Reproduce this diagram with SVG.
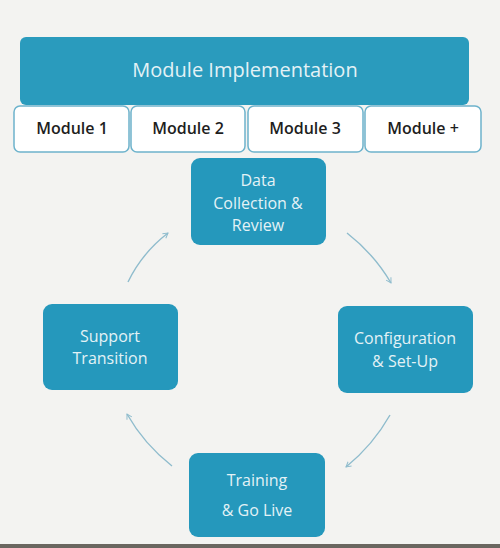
<svg xmlns="http://www.w3.org/2000/svg" width="500" height="548" viewBox="0 0 500 548">
<defs>
<marker id="ah" viewBox="0 0 10 10" refX="8" refY="5" markerWidth="7" markerHeight="7" orient="auto-start-reverse" markerUnits="userSpaceOnUse">
<path d="M1,1 L8,5 L1,9" fill="none" stroke="#8fbccd" stroke-width="1.4"/>
</marker>
<style>
.bar{fill:#2a9bbd}
.box{fill:#2598bc}
.mod{fill:#ffffff;stroke:#6db3cc;stroke-width:1.5}
.wt{font-family:"Open Sans","Noto Sans","Liberation Sans",sans-serif;fill:#e3f2f6;text-anchor:middle;font-weight:500}
.mt{font-family:"Open Sans","Noto Sans","Liberation Sans",sans-serif;fill:#1e1e1e;font-weight:600;font-size:16px;text-anchor:middle}
.arr{fill:none;stroke:#8fbccd;stroke-width:1.4;marker-end:url(#ah)}
</style>
</defs>
<rect x="0" y="0" width="500" height="548" fill="#f3f3f1"/>
<rect x="0" y="544" width="500" height="4" fill="#6a6660"/>
<g id="header">
<rect class="bar" x="20" y="37" width="449" height="68" rx="6"/>
<text class="wt" x="245" y="77" font-size="20">Module Implementation</text>
</g>
<g id="module1"><rect class="mod" x="14" y="106" width="115" height="46" rx="6"/><text class="mt" x="72" y="134">Module 1</text></g>
<g id="module2"><rect class="mod" x="131" y="106" width="114" height="46" rx="6"/><text class="mt" x="188" y="134">Module 2</text></g>
<g id="module3"><rect class="mod" x="248" y="106" width="115" height="46" rx="6"/><text class="mt" x="305" y="134">Module 3</text></g>
<g id="moduleplus"><rect class="mod" x="365" y="106" width="116" height="46" rx="6"/><text class="mt" x="423" y="134">Module +</text></g>
<g id="data">
<rect class="box" x="191" y="158" width="135" height="87" rx="9"/>
<text class="wt" font-size="16" x="258" y="186">Data</text>
<text class="wt" font-size="16" x="258" y="209">Collection &amp;</text>
<text class="wt" font-size="16" x="258" y="231">Review</text>
</g>
<g id="config">
<rect class="box" x="338" y="306" width="135" height="87" rx="9"/>
<text class="wt" font-size="16" x="405" y="344">Configuration</text>
<text class="wt" font-size="16" x="405" y="367">&amp; Set-Up</text>
</g>
<g id="training">
<rect class="box" x="189" y="453" width="136" height="84" rx="9"/>
<text class="wt" font-size="16" x="257" y="486">Training</text>
<text class="wt" font-size="16" x="257" y="516">&amp; Go Live</text>
</g>
<g id="support">
<rect class="box" x="43" y="304" width="135" height="86" rx="9"/>
<text class="wt" font-size="16" x="110" y="342">Support</text>
<text class="wt" font-size="16" x="110" y="364">Transition</text>
</g>
<g id="connectors">
<path class="arr" d="M128,282 Q142,253 168,233"/>
<path class="arr" d="M347,233 Q374,254 391,283"/>
<path class="arr" d="M390,415 Q373,445 346,467"/>
<path class="arr" d="M172,466 Q144,444 127,414"/>
</g>
</svg>
